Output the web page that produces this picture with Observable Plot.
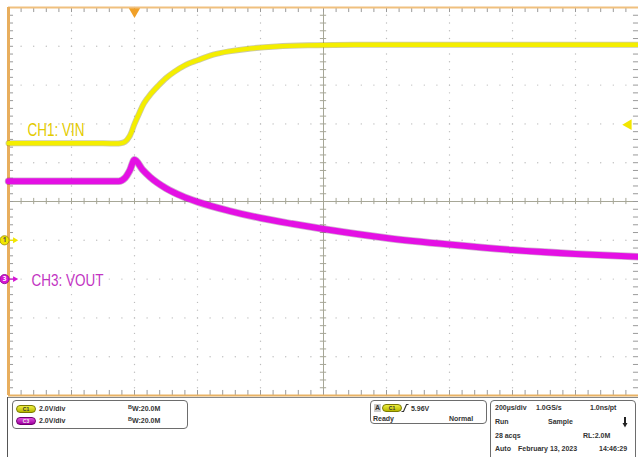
<!DOCTYPE html>
<html><head><meta charset="utf-8">
<script src="https://cdn.jsdelivr.net/npm/d3@7"></script>
<script src="https://cdn.jsdelivr.net/npm/@observablehq/plot@0.6"></script>
<style>
html,body{margin:0;padding:0;background:#fff;width:638px;height:457px;overflow:hidden;font-family:"Liberation Sans",Arial,sans-serif}
#chart svg{display:block}
#panel{position:relative;width:638px;height:60px;background:#fff}
#panel .vline{position:absolute;left:7px;top:0;width:1px;height:60px;background:#555}
#panel .hline{position:absolute;left:7px;top:0;width:631px;height:1px;background:#888}
.box{position:absolute;border:1px solid #6d6d6d;border-radius:4px;box-sizing:border-box}
.t{position:absolute;font-size:7px;font-weight:bold;color:#333;line-height:8px;white-space:nowrap}
.pill{position:absolute;width:20px;height:8px;border-radius:4px;box-sizing:border-box;font-size:5px;line-height:7px;text-align:center;font-weight:bold;color:#333}
.pill.c1{background:linear-gradient(#eeee40,#b8b800);border:1px solid #7a7a00}
.pill.c3{background:linear-gradient(#e050e0,#a000a0);border:1px solid #700070;color:#eee}
.sub{font-size:5.5px;position:relative;top:-2px}
</style></head><body>
<div id="chart"></div>
<div id="panel"></div>
<script>
// ---- data (time in µs relative to trigger, voltages in V) ----
const vinTime  = [-400, -100, -45, -30, -15, 0, 15, 30, 50, 75, 100, 125, 160, 200, 250, 300, 370, 450, 550, 700, 1000, 1600];
const vinVolts = [5.0, 5.0, 5.0, 5.08, 5.38, 6.0, 6.55, 7.06, 7.51, 7.96, 8.36, 8.67, 9.02, 9.28, 9.57, 9.74, 9.89, 9.99, 10.05, 10.08, 10.08, 10.08];
const voutTime  = [-400, -50, -30, -15, 0, 25, 50, 100, 150, 200, 300, 400, 500, 600, 800, 1000, 1200, 1400, 1600];
const voutVolts = [5.05, 5.05, 5.22, 5.6, 6.15, 5.65, 5.25, 4.68, 4.28, 3.98, 3.52, 3.15, 2.85, 2.58, 2.12, 1.78, 1.5, 1.3, 1.15];

const xDivs = [-400, -200, 0, 200, 400, 600, 800, 1000, 1200, 1400, 1600]; // 200 µs/div
const yDivs = [-5, -4, -3, -2, -1, 0, 1, 2, 3, 4, 5];
const voltsPerDiv = 2;
const ch1Offset = -1;   // divisions
const ch3Offset = -2;
const triggerLevel = 5.96;
const labels = [
  {text: "CH1: VIN", t: -340, div: 1.83, color: "#e3cb00", size: 17.5, len: 57},
  {text: "CH3: VOUT", t: -327, div: -2.05, color: "#c234c2", size: 17, len: 72}
];
const channels = [
  {id: "1", div: ch1Offset, fill: "#f2e600", stroke: "#9a8c00", textColor: "#555"},
  {id: "3", div: ch3Offset, fill: "#d416d4", stroke: "#8a008a", textColor: "#fff"}
];

// ---- derived ----
const minorX = d3.range(-400, 1600.1, 40);
const minorY = d3.range(-5, 5.001, 0.2).map(v => Math.round(v * 10) / 10);
const gridPts = [];
for (const x of xDivs.slice(1, -1)) if (x !== 600) for (const y of minorY) gridPts.push({x, y});
for (const y of yDivs.slice(1, -1)) if (y !== 0) for (const x of minorX) gridPts.push({x, y});

const vin = vinTime.map((t, i) => ({t, y: ch1Offset + vinVolts[i] / voltsPerDiv}));
const vout = voutTime.map((t, i) => ({t, y: ch3Offset + voutVolts[i] / voltsPerDiv}));

const gridC = "#bdbdbd", centerC = "#a7a797", tickC = "#9a9a9a";

const plot = Plot.plot({
  width: 638, height: 397,
  marginLeft: 8, marginRight: 0, marginTop: 7, marginBottom: 2,
  x: {domain: [xDivs[0], xDivs[xDivs.length - 1]], axis: null},
  y: {domain: [yDivs[0], yDivs[yDivs.length - 1]], axis: null},
  style: {background: "transparent", overflow: "visible"},
  marks: [
    Plot.dot(gridPts, {x: "x", y: "y", r: 0.7, fill: gridC, stroke: null}),
    Plot.ruleX([600], {stroke: centerC, strokeWidth: 1}),
    Plot.ruleY([0], {stroke: centerC, strokeWidth: 1}),
    Plot.ruleX(minorX, {x: d => d, y1: -0.08, y2: 0.08, stroke: centerC}),
    Plot.ruleY(minorY, {y: d => d, x1: 590, x2: 610, stroke: centerC}),
    // border ticks
    Plot.ruleX(minorX, {x: d => d, y1: 5, y2: 4.87, stroke: tickC}),
    Plot.ruleX(minorX, {x: d => d, y1: -5, y2: -4.87, stroke: tickC}),
    Plot.ruleY(minorY, {y: d => d, x1: -400, x2: -384, stroke: tickC}),
    Plot.ruleY(minorY, {y: d => d, x1: 1600, x2: 1584, stroke: tickC}),
    // frame
    Plot.ruleY([5], {stroke: "#f0c07e", strokeWidth: 2}),
    Plot.ruleY([-5], {stroke: "#e8b264", strokeWidth: 2}),
    Plot.ruleX([-400], {stroke: "#e8ae5e", strokeWidth: 3}),
    // traces
    Plot.line(vin, {x: "t", y: "y", stroke: "#6d6800", strokeWidth: 6, strokeOpacity: 0.35, curve: "catmull-rom"}),
    Plot.line(vin, {x: "t", y: "y", stroke: "#f4ee00", strokeWidth: 4.4, curve: "catmull-rom"}),
    Plot.line(vout, {x: "t", y: "y", stroke: "#600060", strokeWidth: 7.5, strokeOpacity: 0.3, curve: "monotone-x"}),
    Plot.line(vout, {x: "t", y: "y", stroke: "#e410e4", strokeWidth: 6, curve: "monotone-x"}),
    // labels
    Plot.text(labels, {x: "t", y: "div", text: "text", fill: "color", fontSize: d => d.size, textAnchor: "start", fontFamily: "Liberation Sans, Arial, sans-serif"}),
    // trigger position marker (top)
    Plot.dot([0], {x: d => d, y: 5, symbol: "triangle", rotate: 180, r: 4.2, fill: "#f0a028", stroke: null, dy: 4}),
    // trigger level marker (right)
    Plot.dot([triggerLevel], {x: 1600, y: d => ch1Offset + d / voltsPerDiv, symbol: "triangle", rotate: -90, r: 4, fill: "#f2e600", stroke: null, dx: -10}),
    // channel ground markers
    Plot.ruleY(channels, {y: "div", x1: -400, x2: -380, stroke: "fill", strokeWidth: 1.2}),
    Plot.dot(channels, {x: -380, y: "div", symbol: "triangle", rotate: 90, r: 2.2, fill: "fill", stroke: null}),
    Plot.dot(channels, {x: -400, y: "div", r: 4.6, fill: "fill", stroke: "stroke", strokeWidth: 0.8, dx: -4}),
    Plot.text(channels, {x: -400, y: "div", text: "id", fill: "textColor", fontSize: 6.5, fontWeight: "bold", dx: -4})
  ]
});
document.getElementById("chart").appendChild(plot);

// condensed oscilloscope font for the labels
d3.select(plot).selectAll("text").each(function() {
  const l = labels.find(d => d.text === this.textContent);
  if (l) { this.setAttribute("textLength", l.len); this.setAttribute("lengthAdjust", "spacingAndGlyphs"); }
});

// ---- status panel ----
const panel = document.getElementById("panel");
const Y0 = 397;
function add(html, cls, x, yc, extra) {
  const e = document.createElement("div");
  e.className = cls; e.innerHTML = html;
  e.style.left = x + "px"; e.style.top = (yc - Y0 - 4) + "px";
  if (extra) Object.assign(e.style, extra);
  panel.appendChild(e); return e;
}
panel.innerHTML = '<div class="hline"></div><div class="vline"></div>';
const box = (x1, y1, x2, y2) => { const e = document.createElement("div"); e.className = "box";
  Object.assign(e.style, {left: x1 + "px", top: (y1 - Y0) + "px", width: (x2 - x1) + "px", height: (y2 - y1) + "px"}); panel.appendChild(e); };
box(12, 400, 188, 429);
box(370, 400, 487, 424);
box(490, 400, 636, 462);

const chRows = [
  {pill: "c1", name: "C1", scale: "2.0V/div", bw: "20.0M", y: 409},
  {pill: "c3", name: "C3", scale: "2.0V/div", bw: "20.0M", y: 421}
];
for (const r of chRows) {
  add(r.name, "pill " + r.pill, 16, r.y);
  add(r.scale, "t", 39, r.y);
  add('<span class="sub">B</span>W:' + r.bw, "t", 128, r.y);
}
add("A", "t", 374, 408, {background: "#ccc", padding: "0 1px"});
add("C1", "pill c1", 382, 408);
add('<svg width="8" height="8" style="vertical-align:-1px"><path d="M0.5,7.5 H2.5 L5.5,0.5 H7.5" fill="none" stroke="#333" stroke-width="1.1"/></svg> 5.96V', "t", 401, 408);
add("Ready", "t", 373, 419);
add("Normal", "t", 449, 419);

const acq = [
  {y: 408, items: [["200µs/div", 495], ["1.0GS/s", 536], ["1.0ns/pt", 590]]},
  {y: 422, items: [["Run", 495], ["Sample", 548]]},
  {y: 436, items: [["28 acqs", 495], ["RL:2.0M", 583]]},
  {y: 449, items: [["Auto", 495], ["February 13, 2023", 518], ["14:46:29", 599]]}
];
for (const row of acq) for (const [s, x] of row.items) add(s, "t", x, row.y);
add('<svg width="6" height="11"><path d="M3,0 V7" stroke="#222" stroke-width="2"/><path d="M0.5,6 L5.5,6 L3,10.5 Z" fill="#222"/></svg>', "t", 622, 422, {lineHeight: "11px", top: (417 - Y0) + "px"});
</script>
</body></html>
